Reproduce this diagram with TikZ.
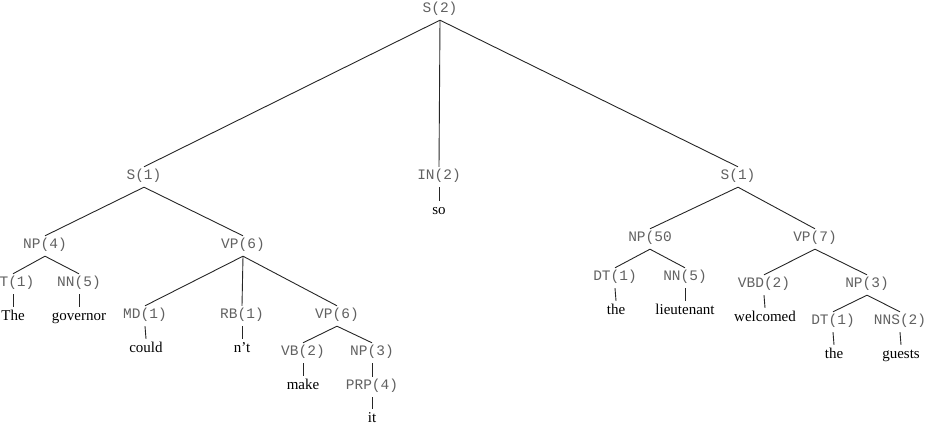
\documentclass[tikz,border=0pt]{standalone}
\usepackage{fontspec}
\setmainfont{Liberation Serif}
\newfontfamily\labfont{Liberation Mono}
\begin{document}
\begin{tikzpicture}[x=1pt,y=-1pt,
  lab/.style={font=\labfont\fontsize{14.5}{16}\selectfont, text=black!62, anchor=base,
    inner xsep=0pt, inner ysep=2pt, text height=11pt, text depth=5pt},
  word/.style={font=\fontsize{15}{17}\selectfont, text=black, anchor=base,
    inner xsep=0pt, inner ysep=2pt, text height=12pt, text depth=4pt},
  edge/.style={draw=black!85, line width=0.9pt}]
\useasboundingbox (0,0) rectangle (927,430);
% labels (baseline = visual centre + 4)
\node[lab] (S2) at (440,13) {S(2)};
\node[lab] (S1L) at (144,180) {S(1)};
\node[lab] (IN2) at (439,180) {IN(2)};
\node[lab] (S1R) at (738,180) {S(1)};
\node[word] (so) at (439,215) {so};
\node[lab] (NP4) at (45,249) {NP(4)};
\node[lab] (VP6a) at (243,249) {VP(6)};
\node[lab] (T1) at (17,287) {T(1)};
\node[lab] (NN5a) at (79,287) {NN(5)};
\node[word] (The) at (13,321) {The};
\node[word] (governor) at (79,321) {governor};
\node[lab] (MD1) at (145,319) {MD(1)};
\node[lab] (RB1) at (242,319) {RB(1)};
\node[lab] (VP6b) at (337,319) {VP(6)};
\node[word] (could) at (146,353) {could};
\node[word] (nt) at (242,353) {n't};
\node[lab] (VB2) at (303,356) {VB(2)};
\node[lab] (NP3a) at (372,356) {NP(3)};
\node[word] (make) at (303,390) {make};
\node[lab] (PRP4) at (372,390) {PRP(4)};
\node[word] (it) at (372,423) {it};
\node[lab] (NP50) at (650,242) {NP(50};
\node[lab] (VP7) at (815,242) {VP(7)};
\node[lab] (DT1a) at (615,281) {DT(1)};
\node[lab] (NN5b) at (685,281) {NN(5)};
\node[word] (thea) at (616,315) {the};
\node[word] (lieutenant) at (685,315) {lieutenant};
\node[lab] (VBD2) at (764,288) {VBD(2)};
\node[lab] (NP3b) at (867,288) {NP(3)};
\node[word] (welcomed) at (765,322) {welcomed};
\node[lab] (DT1b) at (833,325) {DT(1)};
\node[lab] (NNS2) at (900,325) {NNS(2)};
\node[word] (theb) at (834,359) {the};
\node[word] (guests) at (901,359) {guests};
% edges
\path[edge] (S2.south) -- (S1L.north);
\path[edge] (S2.south) -- (IN2.north);
\path[edge] (S2.south) -- (S1R.north);
\path[edge] (IN2.south) -- (so.north);
\path[edge] (S1L.south) -- (NP4.north);
\path[edge] (S1L.south) -- (VP6a.north);
\path[edge] (NP4.south) -- (T1.north -| The);
\path[edge] (NP4.south) -- (NN5a.north);
\path[edge] (T1.south -| The) -- (The.north);
\path[edge] (NN5a.south) -- (governor.north);
\path[edge] (VP6a.south) -- (MD1.north);
\path[edge] (VP6a.south) -- (RB1.north);
\path[edge] (VP6a.south) -- (VP6b.north);
\path[edge] (MD1.south) -- (could.north);
\path[edge] (RB1.south) -- (nt.north);
\path[edge] (VP6b.south) -- (VB2.north);
\path[edge] (VP6b.south) -- (NP3a.north);
\path[edge] (VB2.south) -- (make.north);
\path[edge] (NP3a.south) -- (PRP4.north);
\path[edge] (PRP4.south) -- (it.north);
\path[edge] (S1R.south) -- (NP50.north);
\path[edge] (S1R.south) -- (VP7.north);
\path[edge] (NP50.south) -- (DT1a.north);
\path[edge] (NP50.south) -- (NN5b.north);
\path[edge] (DT1a.south) -- (thea.north);
\path[edge] (NN5b.south) -- (lieutenant.north);
\path[edge] (VP7.south) -- (VBD2.north);
\path[edge] (VP7.south) -- (NP3b.north);
\path[edge] (VBD2.south) -- (welcomed.north);
\path[edge] (NP3b.south) -- (DT1b.north);
\path[edge] (NP3b.south) -- (NNS2.north);
\path[edge] (DT1b.south) -- (theb.north);
\path[edge] (NNS2.south) -- (guests.north);
\end{tikzpicture}
\end{document}
